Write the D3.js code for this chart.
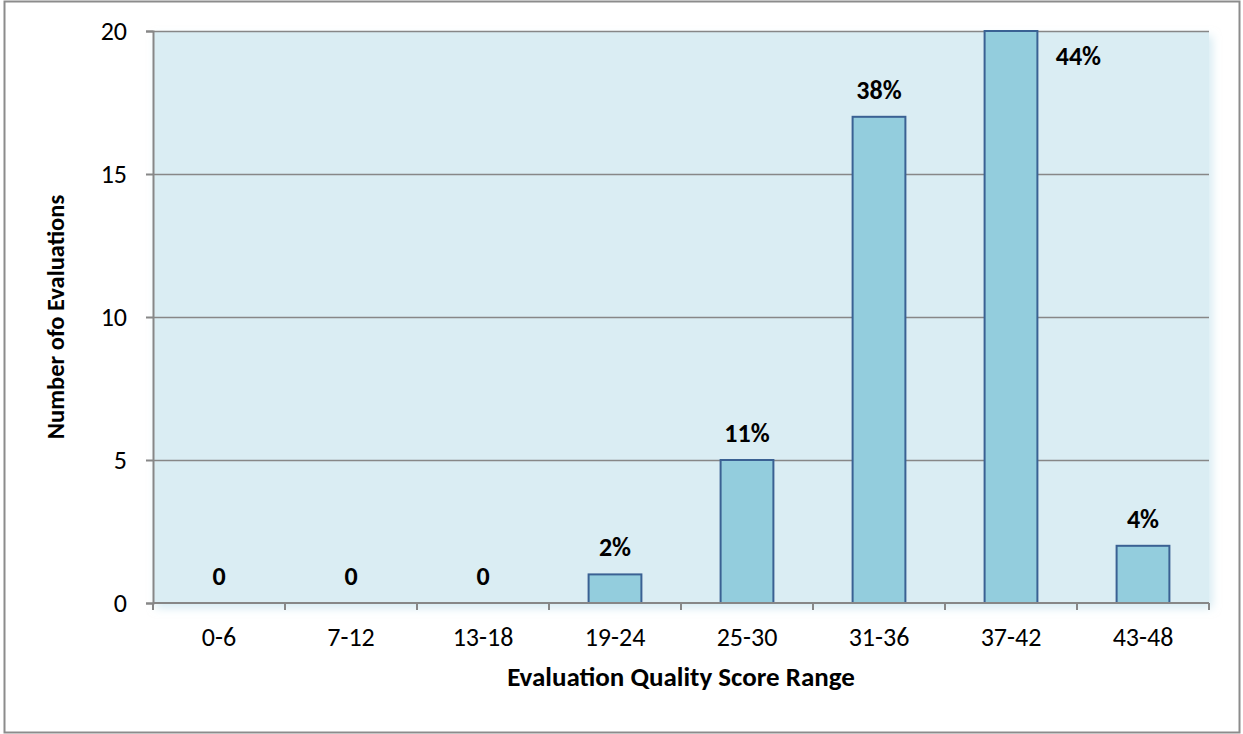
<!DOCTYPE html>
<html>
<head>
<meta charset="utf-8">
<script src="https://cdn.jsdelivr.net/npm/d3@7"></script>
<style>
  html, body { margin: 0; padding: 0; background: #ffffff; }
  svg { display: block; }
  text { font-family: Carlito, Calibri, Lato, "Open Sans", sans-serif; fill: #000; }
</style>
</head>
<body>
<svg id="chart" width="1243" height="734"></svg>
<script>
// Score ranges and evaluation counts
const categories = ["0-6", "7-12", "13-18", "19-24", "25-30", "31-36", "37-42", "43-48"];
const counts = [0, 0, 0, 1, 5, 17, 20, 2];
const shareLabels = ["0", "0", "0", "2%", "11%", "38%", "44%", "4%"];
const yTicks = [0, 5, 10, 15, 20];

const xTitle = "Evaluation Quality Score Range";
const yTitle = "Number ofo Evaluations";

const W = 1243, H = 734;
const plot = { left: 153, top: 31, right: 1209, bottom: 603 };
const FONT = "Carlito, Calibri, Lato, 'Open Sans', sans-serif";

const svg = d3.select("#chart");

// soft shadow under the plot area
const defs = svg.append("defs");
const f = defs.append("filter").attr("id", "plotShadow")
  .attr("x", "-5%").attr("y", "-5%").attr("width", "112%").attr("height", "115%");
f.append("feDropShadow").attr("dx", 3).attr("dy", 5).attr("stdDeviation", 5)
  .attr("flood-color", "#b7dce8").attr("flood-opacity", 0.6);

// outer chart frame
svg.append("rect")
  .attr("x", 4.5).attr("y", 1.5).attr("width", 1235).attr("height", 731)
  .attr("fill", "#fff").attr("stroke", "#8c8c8c").attr("stroke-width", 2);

const x = d3.scaleBand().domain(categories)
  .range([plot.left, plot.right]).paddingInner(0.6).paddingOuter(0.3);
const xOuter = d3.scaleBand().domain(categories).range([plot.left, plot.right]);
const y = d3.scaleLinear().domain([0, 20]).range([plot.bottom, plot.top]);

// plot background
svg.append("rect")
  .attr("x", plot.left).attr("y", plot.top)
  .attr("width", plot.right - plot.left).attr("height", plot.bottom - plot.top)
  .attr("fill", "#daedf3").attr("filter", "url(#plotShadow)");

// horizontal gridlines
svg.append("g").selectAll("line").data(yTicks.filter(d => d > 0)).join("line")
  .attr("x1", plot.left).attr("x2", plot.right)
  .attr("y1", d => Math.round(y(d)) + 0.5).attr("y2", d => Math.round(y(d)) + 0.5)
  .attr("stroke", "#878787").attr("stroke-width", 1.5);

// y axis
const yAxis = svg.append("g").attr("transform", `translate(${plot.left},0)`)
  .call(d3.axisLeft(y).tickValues(yTicks).tickSize(7).tickPadding(19));
yAxis.select(".domain").attr("stroke", "#878787").attr("stroke-width", 2);
yAxis.selectAll(".tick line").attr("stroke", "#878787").attr("stroke-width", 2);
yAxis.selectAll(".tick text").attr("font-size", 26).attr("fill", "#000")
  .style("font-family", FONT);

// bars
svg.append("g").selectAll("rect").data(categories).join("rect")
  .attr("x", d => x(d))
  .attr("y", (d, i) => y(counts[i]))
  .attr("width", x.bandwidth())
  .attr("height", (d, i) => y(0) - y(counts[i]))
  .attr("fill", "#93cddd")
  .attr("stroke", "#3a6193").attr("stroke-width", 2)
  .attr("visibility", (d, i) => counts[i] > 0 ? "visible" : "hidden");

// x axis with ticks at category boundaries
const xAxisG = svg.append("g").attr("transform", `translate(0,${plot.bottom})`);
xAxisG.append("line").attr("x1", plot.left).attr("x2", plot.right)
  .attr("y1", 0).attr("y2", 0).attr("stroke", "#878787").attr("stroke-width", 2);
const bounds = categories.map(c => xOuter(c)).concat([plot.right]);
xAxisG.selectAll("line.tk").data(bounds).join("line").attr("class", "tk")
  .attr("x1", d => d).attr("x2", d => d).attr("y1", 0).attr("y2", 7)
  .attr("stroke", "#878787").attr("stroke-width", 2);
xAxisG.selectAll("text").data(categories).join("text")
  .attr("x", d => xOuter(d) + xOuter.bandwidth() / 2)
  .attr("y", 43)
  .attr("text-anchor", "middle").attr("font-size", 26)
  .text(d => d);

// data labels; when a bar reaches the top the label sits beside it
svg.append("g").selectAll("text").data(categories).join("text")
  .attr("x", (d, i) => {
    const cx = x(d) + x.bandwidth() / 2;
    return y(counts[i]) - 19 < plot.top + 10 ? x(d) + x.bandwidth() + 41 : cx;
  })
  .attr("y", (d, i) => y(counts[i]) - 19 < plot.top + 10 ? plot.top + 34 : y(counts[i]) - 18)
  .attr("text-anchor", "middle").attr("font-size", 26).attr("font-weight", "bold")
  .text((d, i) => shareLabels[i]);

// axis titles
svg.append("text")
  .attr("x", (plot.left + plot.right) / 2).attr("y", 686)
  .attr("text-anchor", "middle").attr("font-size", 27).attr("font-weight", "bold")
  .text(xTitle);

svg.append("text")
  .attr("transform", `translate(64,${(plot.top + plot.bottom) / 2}) rotate(-90)`)
  .attr("text-anchor", "middle").attr("font-size", 24.5).attr("font-weight", "bold")
  .text(yTitle);
</script>
</body>
</html>
